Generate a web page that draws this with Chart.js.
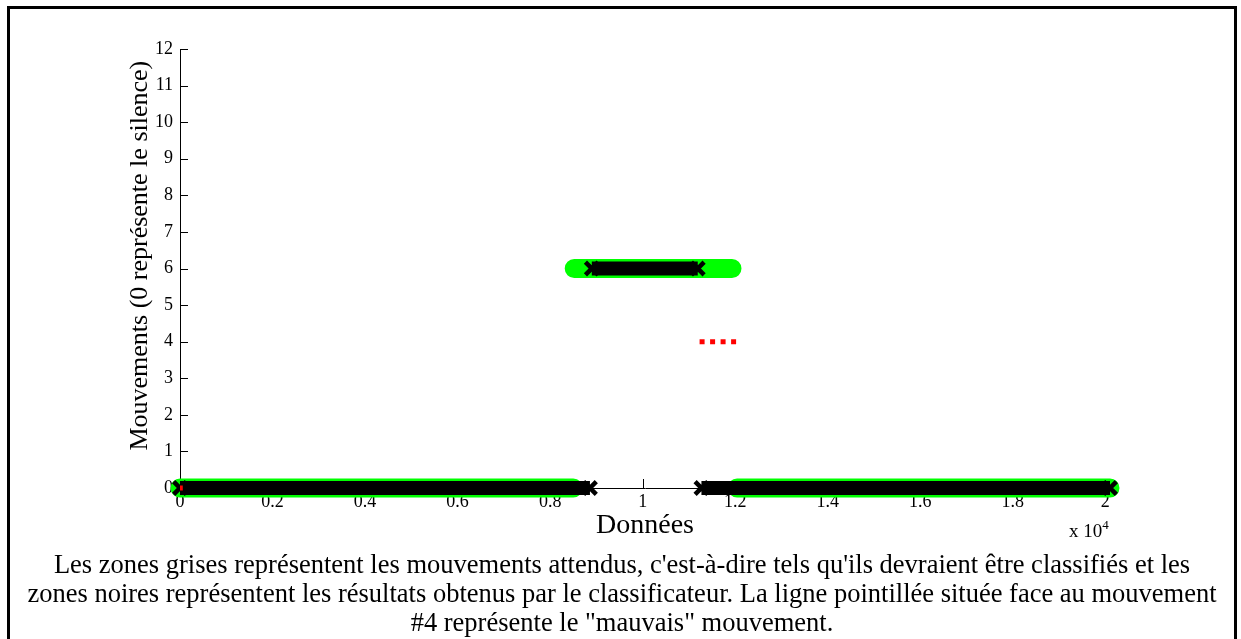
<!DOCTYPE html>
<html>
<head>
<meta charset="utf-8">
<script src="https://cdn.jsdelivr.net/npm/chart.js@4"></script>
<style>
  body { margin: 0; background: #fff; width: 1241px; height: 639px; overflow: hidden; position: relative; font-family: "Liberation Serif", serif; }
  #frame { position: absolute; left: 7px; top: 6px; width: 1230px; height: 700px; box-sizing: border-box; border: 3px solid #000; }
  #wrap { position: absolute; left: 0; top: 0; width: 1241px; height: 560px; }
  #expo { position: absolute; left: 1069px; top: 517px; font-size: 19px; color: #000; }
  #expo sup { font-size: 13px; vertical-align: 8px; }
  #caption { position: absolute; left: 7px; top: 550px; width: 1230px; text-align: center; font-size: 26.5px; line-height: 29px; color: #000; white-space: nowrap; }
</style>
</head>
<body>
<div id="frame"></div>
<div id="wrap"><canvas id="myChart"></canvas></div>
<div id="expo">x 10<sup>4</sup></div>
<div id="caption">Les zones grises représentent les mouvements attendus, c'est-à-dire tels qu'ils devraient être classifiés et les<br>zones noires représentent les résultats obtenus par le classificateur. La ligne pointillée située face au mouvement<br>#4 représente le "mauvais" mouvement.</div>
<script>
/* DATA */
// expected movements (green): start, end, movement
const expectedStart = [0, 8520, 12040];
const expectedEnd = [8500, 11930, 20100];
const expectedMove = [0, 6, 0];

// classifier results (black)
const resultStart = [0, 8900, 11270];
const resultEnd = [8860, 11190, 20100];
const resultMove = [0, 6, 0];

// "wrong" movement (red dotted)
const wrongStart = [0, 11230];
const wrongEnd = [60, 12030];
const wrongMove = [0, 4];

const xTicks = [0, 2000, 4000, 6000, 8000, 10000, 12000, 14000, 16000, 18000, 20000];
const yTicks = [0, 1, 2, 3, 4, 5, 6, 7, 8, 9, 10, 11, 12];

function segments(starts, ends, moves){
    const pts = [];
    for (let i = 0; i < starts.length; i++){
        pts.push({x: starts[i], y: moves[i]});
        pts.push({x: ends[i], y: moves[i]});
        if (i < starts.length - 1) pts.push({x: ends[i], y: null});
    }
    return pts;
}

function endpointsOnly(ctx){
    const p = ctx.dataset.data[ctx.dataIndex];
    if (!p || p.y === null) return 0;
    return 9;
}

const serif = '"Liberation Serif", "Times New Roman", serif';

// inside tick marks + y title a bit above centre, like the original plot
const axisExtras = {
    id: 'axisExtras',
    beforeDatasetsDraw(chart){
        const {ctx, chartArea, scales} = chart;
        ctx.save();
        ctx.strokeStyle = '#000';
        ctx.lineWidth = 1;
        ctx.beginPath();
        yTicks.forEach(v => {
            const y = Math.round(scales.y.getPixelForValue(v)) + 0.5;
            ctx.moveTo(chartArea.left, y);
            ctx.lineTo(chartArea.left + 8, y);
        });
        xTicks.forEach(v => {
            const x = Math.round(scales.x.getPixelForValue(v)) + 0.5;
            ctx.moveTo(x, chartArea.bottom);
            ctx.lineTo(x, chartArea.bottom - 9);
        });
        ctx.stroke();

        ctx.translate(chartArea.left - 40, scales.y.getPixelForValue(6.35));
        ctx.rotate(-Math.PI / 2);
        ctx.fillStyle = '#000';
        ctx.font = '26px ' + serif;
        ctx.textAlign = 'center';
        ctx.textBaseline = 'middle';
        ctx.fillText('Mouvements (0 représente le silence)', 0, 0);
        ctx.restore();
    }
};

const data = {
    datasets: [{
        label: 'wrong',
        data: segments(wrongStart, wrongEnd, wrongMove),
        borderColor: 'rgb(255, 0, 0)',
        borderWidth: 5,
        borderDash: [5, 5.5],
        borderCapStyle: 'butt',
        pointRadius: 0,
        spanGaps: false,
        clip: false,
        order: 0
    }, {
        label: 'results',
        data: segments(resultStart, resultEnd, resultMove),
        borderColor: '#000',
        borderWidth: 14,
        borderCapStyle: 'butt',
        pointStyle: 'crossRot',
        pointRadius: endpointsOnly,
        pointBorderWidth: 4.5,
        pointBorderColor: '#000',
        pointBackgroundColor: '#000',
        spanGaps: false,
        clip: false,
        order: 1
    }, {
        label: 'expected',
        data: segments(expectedStart, expectedEnd, expectedMove),
        borderColor: 'rgb(0, 255, 0)',
        borderWidth: 19,
        borderCapStyle: 'round',
        pointRadius: 0,
        spanGaps: false,
        clip: false,
        order: 2
    }]
};

const config = {
    type: 'line',
    data,
    options: {
        responsive: false,
        animation: false,
        events: [],
        layout: { padding: { left: 120, right: 131, top: 49, bottom: 16 } },
        plugins: { legend: { display: false }, tooltip: { enabled: false } },
        scales: {
            x: {
                type: 'linear',
                min: 0,
                max: 20100,
                afterFit: s => { s.height = 56; },
                afterBuildTicks: s => { s.ticks = xTicks.map(v => ({value: v})); },
                grid: { display: true, drawOnChartArea: false, drawTicks: false },
                border: { display: true, color: '#000', width: 1 },
                ticks: {
                    color: '#000',
                    padding: 3,
                    maxRotation: 0,
                    autoSkip: false,
                    font: { family: serif, size: 18 },
                    callback: v => String(Math.round(v / 1000) / 10)
                },
                title: {
                    display: true,
                    text: 'Données',
                    color: '#000',
                    font: { family: serif, size: 28 },
                    padding: { top: 0, bottom: 2 }
                }
            },
            y: {
                min: 0,
                max: 12,
                afterFit: s => { s.width = 60; },
                afterBuildTicks: s => { s.ticks = yTicks.map(v => ({value: v})); },
                grid: { display: true, drawOnChartArea: false, drawTicks: false },
                border: { display: true, color: '#000', width: 1 },
                ticks: {
                    color: '#000',
                    padding: 7,
                    autoSkip: false,
                    font: { family: serif, size: 18 }
                }
            }
        }
    },
    plugins: [axisExtras]
};

const canvas = document.getElementById('myChart');
canvas.width = 1241;
canvas.height = 560;
let myChart = new Chart(canvas, config);
</script>
</body>
</html>
